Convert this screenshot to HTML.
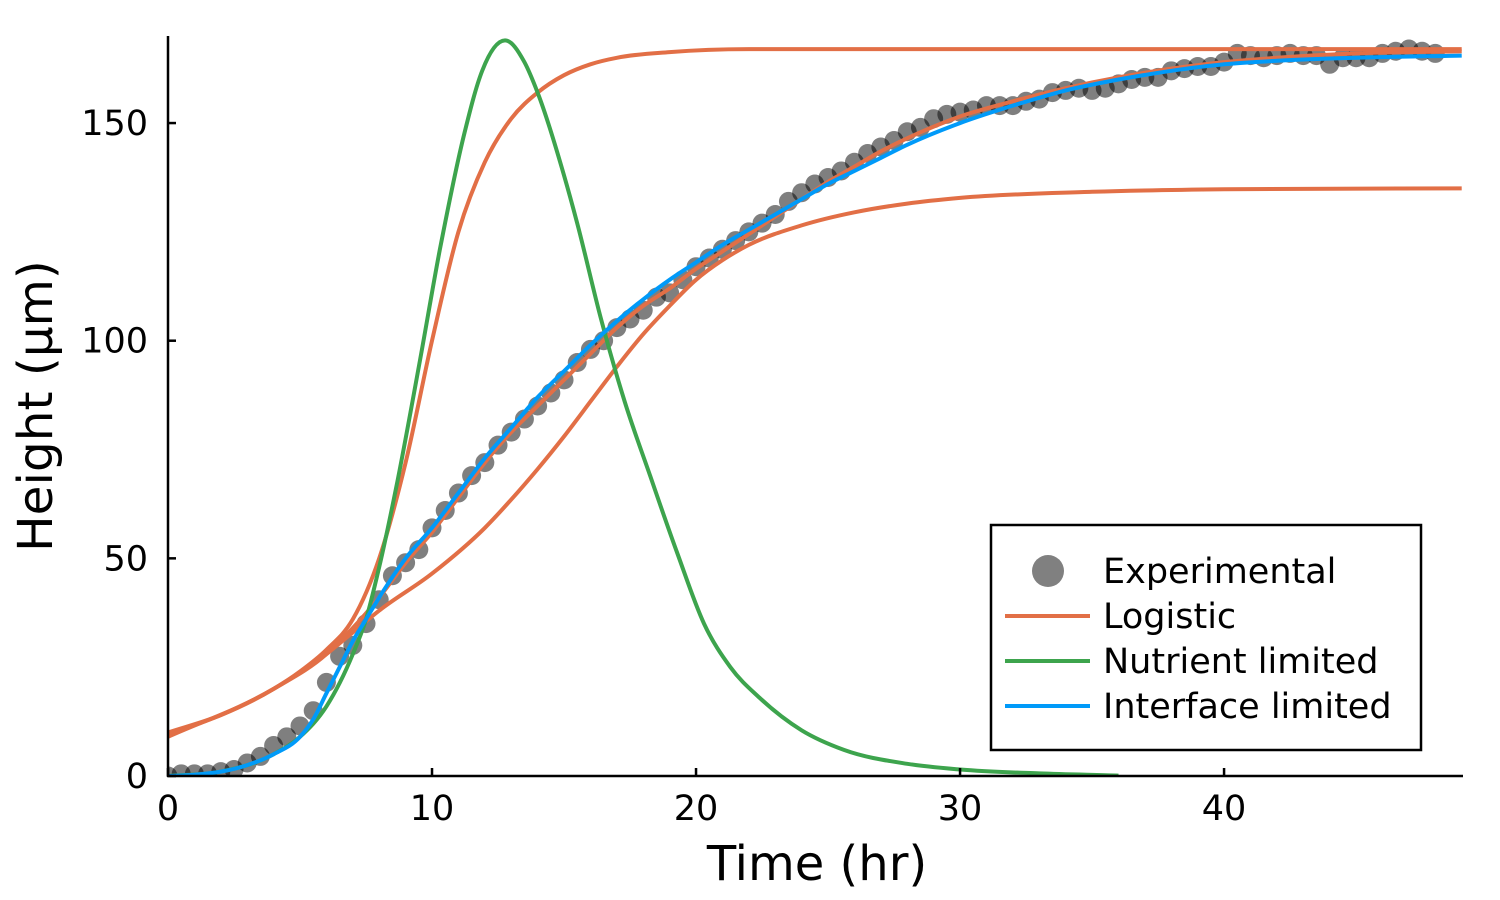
<!DOCTYPE html>
<html><head><meta charset="utf-8"><style>
body{margin:0;background:#fff;}
svg{display:block;font-family:"DejaVu Sans","Liberation Sans",sans-serif;}
</style></head><body>
<div style="position:relative;width:1500px;height:900px">
<svg id="chart" width="1500" height="900" style="position:absolute;left:0;top:0"></svg>
<svg width="1500" height="900" style="position:absolute;left:0;top:0;font-family:'DejaVu Sans','Liberation Sans',sans-serif">
<text x="817" y="880" font-size="48" text-anchor="middle">Time (hr)</text>
<text transform="translate(52,406) rotate(-90)" font-size="48.5" text-anchor="middle">Height (μm)</text>
<g>
<rect x="991" y="525" width="430" height="225" fill="#fff" stroke="#000" stroke-width="2.5"/>
<circle cx="1048" cy="571" r="16" fill="#808080"/>
<line x1="1005" y1="616" x2="1090" y2="616" stroke="#e26f46" stroke-width="4"/>
<line x1="1005" y1="661" x2="1090" y2="661" stroke="#3da44d" stroke-width="4"/>
<line x1="1005" y1="706" x2="1090" y2="706" stroke="#009af9" stroke-width="4"/>
<text x="1103" y="583" font-size="35">Experimental</text>
<text x="1103" y="628" font-size="35">Logistic</text>
<text x="1103" y="673" font-size="35">Nutrient limited</text>
<text x="1103" y="718" font-size="35">Interface limited</text>
</g>
</svg>
</div>
<script>
const expT=[];for(let i=0;i<=96;i++)expT.push(i*0.5);
const expH=[0,0.5,0.5,0.5,1,1.5,3,4.5,7,9,11.5,15,21.5,27.5,30,35,40.5,46,49,52,57,61,65,69,72,76,79,82,85,88,91,95,98,100,103,105,107,110,111,114,117,119,121,123,125,127,129,132,134,136,137.5,139,141,143,144.5,146,148,149,151,152,152.5,153,154,154,154,155,155.5,157,157.5,158,157.5,158,159,160,160.5,160.5,162,162.5,163,163,164,166,165.5,165,165.5,166,165.5,165.5,163.5,165,165,165,166,166.5,167,166.5,166];
const logHiT=[0,2,4,5,6,7,8,9,10,11,12,13,14,15,16,17,19,22,25,49];
const logHiH=[10,14,20,24,29,36,50,72,100,125,141,151,157,161,163.5,165,166.3,167,167,167];
const logLoT=[0,2,4,6,7,8,10,12,13,14,15,16,17,18,19,20,21,22,24,26,28,30,35,40,49];
const logLoH=[9.5,14,20,28,33,38,46.5,57,63.5,70.5,78,86,94,101.5,108,114,118.5,122,126.5,129.5,131.5,132.8,134.2,134.8,135];
const logMdT=[0,4,6,7,8,9,10,11,12,13,14,15,16,17,18,19,20,21,22,23,24,25,26,27,28,30,32,34,36,38,40,42,45,49];
const logMdH=[9,20,28,34,41,49,56,64,72,79,85,91,97,103,108,112,116.5,120.5,124.5,128.5,132.5,136.5,140,143.5,146.5,151.5,155,158,160.5,162.5,164,165,166,166.5];
const nutT=[0,2,4,5,6,7,7.5,8,8.7,9.5,10.3,11.2,11.9,12.77,13.5,14,15,15.5,16.4,17.3,18.26,19.3,20.3,21.3,22.4,24,25.6,28,30,33,36];
const nutH=[0,1,5,9,16,28,36,48,68,94,121,147,162,169,164,157,138,127,105,86,69,51,35,25,18,10.5,6,2.8,1.5,0.6,0.1];
const intT=[0,1,2,3,4,5,5.5,6,6.5,7,7.5,8,9,10,11,12,13,14,15,16,17,18,19,20,21,22,23,24,25,26,27,28,30,32,34,36,38,40,42,45,49];
const intH=[0,0.3,1,2.5,5,9,13,19,25,31,36,41,50,57,65,73,80,87,93,99,104.5,109.5,114,118,122,125.5,129,132.5,136,139,142,145,150,154,157.5,160,162,163.5,164.3,165,165.5];
const xTicks=[0,10,20,30,40];
const yTicks=[0,50,100,150];

const NS="http://www.w3.org/2000/svg";
const svg=document.getElementById('chart');
const X0=168,X1=1463,Y0=776,Y1=36,XMAX=49.05,YMAX=170;
const sx=t=>X0+t/XMAX*(X1-X0);
const sy=v=>Y0-v/YMAX*(Y0-Y1);
function mk(tag,attrs,parent){const e=document.createElementNS(NS,tag);for(const k in attrs)e.setAttribute(k,attrs[k]);(parent||svg).appendChild(e);return e;}

const clip=mk('clipPath',{id:'pc'});mk('rect',{x:X0,y:Y1-10,width:X1-X0,height:Y0-Y1+10},clip);
const plot=mk('g',{'clip-path':'url(#pc)'});



const pts=mk('g',{fill:'#000','fill-opacity':'0.5'},plot);


expT.forEach((t,i)=>{const c=mk('circle',{cx:sx(t),cy:sy(expH[i]),r:9.5},pts);

});

function smoothPath(T,H){
  const n=T.length,d=[],m=[];
  for(let i=0;i<n-1;i++)d.push((H[i+1]-H[i])/(T[i+1]-T[i]));
  m[0]=d[0];m[n-1]=d[n-2];
  for(let i=1;i<n-1;i++){
    if(d[i-1]*d[i]<=0){m[i]=0;continue;}
    const h0=T[i]-T[i-1],h1=T[i+1]-T[i];
    m[i]=(d[i-1]*h1+d[i]*h0)/(h0+h1);}
  for(let i=0;i<n-1;i++){if(d[i]===0){m[i]=0;m[i+1]=0;continue;}
    const a=m[i]/d[i],b=m[i+1]/d[i],s=a*a+b*b;
    if(s>9){const tt=3/Math.sqrt(s);m[i]=tt*a*d[i];m[i+1]=tt*b*d[i];}}
  let p='M'+sx(T[0]).toFixed(1)+','+sy(H[0]).toFixed(1);
  for(let i=0;i<n-1;i++){const h=T[i+1]-T[i];
    p+=' C'+sx(T[i]+h/3).toFixed(1)+','+sy(H[i]+m[i]*h/3).toFixed(1)+' '+
       sx(T[i+1]-h/3).toFixed(1)+','+sy(H[i+1]-m[i+1]*h/3).toFixed(1)+' '+
       sx(T[i+1]).toFixed(1)+','+sy(H[i+1]).toFixed(1);}
  return p;}
function line(T,H,color,name){
const p=mk('path',{d:smoothPath(T,H),fill:'none',stroke:color,'stroke-width':4,'stroke-linejoin':'round'},plot);

}
line(logHiT,logHiH,'#e26f46','logistic-curve-high');
line(logLoT,logLoH,'#e26f46','logistic-curve-low');
line(logMdT,logMdH,'#e26f46','logistic-curve-fit');
line(nutT,nutH,'#3da44d','nutrient-limited-curve');
line(intT,intH,'#009af9','interface-limited-curve');

const ax=mk('g',{stroke:'#000','stroke-width':2.5,fill:'none'});


mk('line',{x1:X0,y1:Y1,x2:X0,y2:Y0+1},ax);
mk('line',{x1:X0-1,y1:Y0,x2:X1,y2:Y0},ax);
xTicks.forEach(t=>{mk('line',{x1:sx(t),y1:Y0,x2:sx(t),y2:Y0-8},ax);
const tx=mk('text',{x:sx(t),y:Y0+44,'font-size':35,'text-anchor':'middle',fill:'#000',stroke:'none'});tx.textContent=t;

});
yTicks.forEach(v=>{mk('line',{x1:X0,y1:sy(v),x2:X0+8,y2:sy(v)},ax);
const tx=mk('text',{x:X0-20,y:sy(v)+12,'font-size':35,'text-anchor':'end',fill:'#000',stroke:'none'});tx.textContent=v;

});
</script>
</body></html>
